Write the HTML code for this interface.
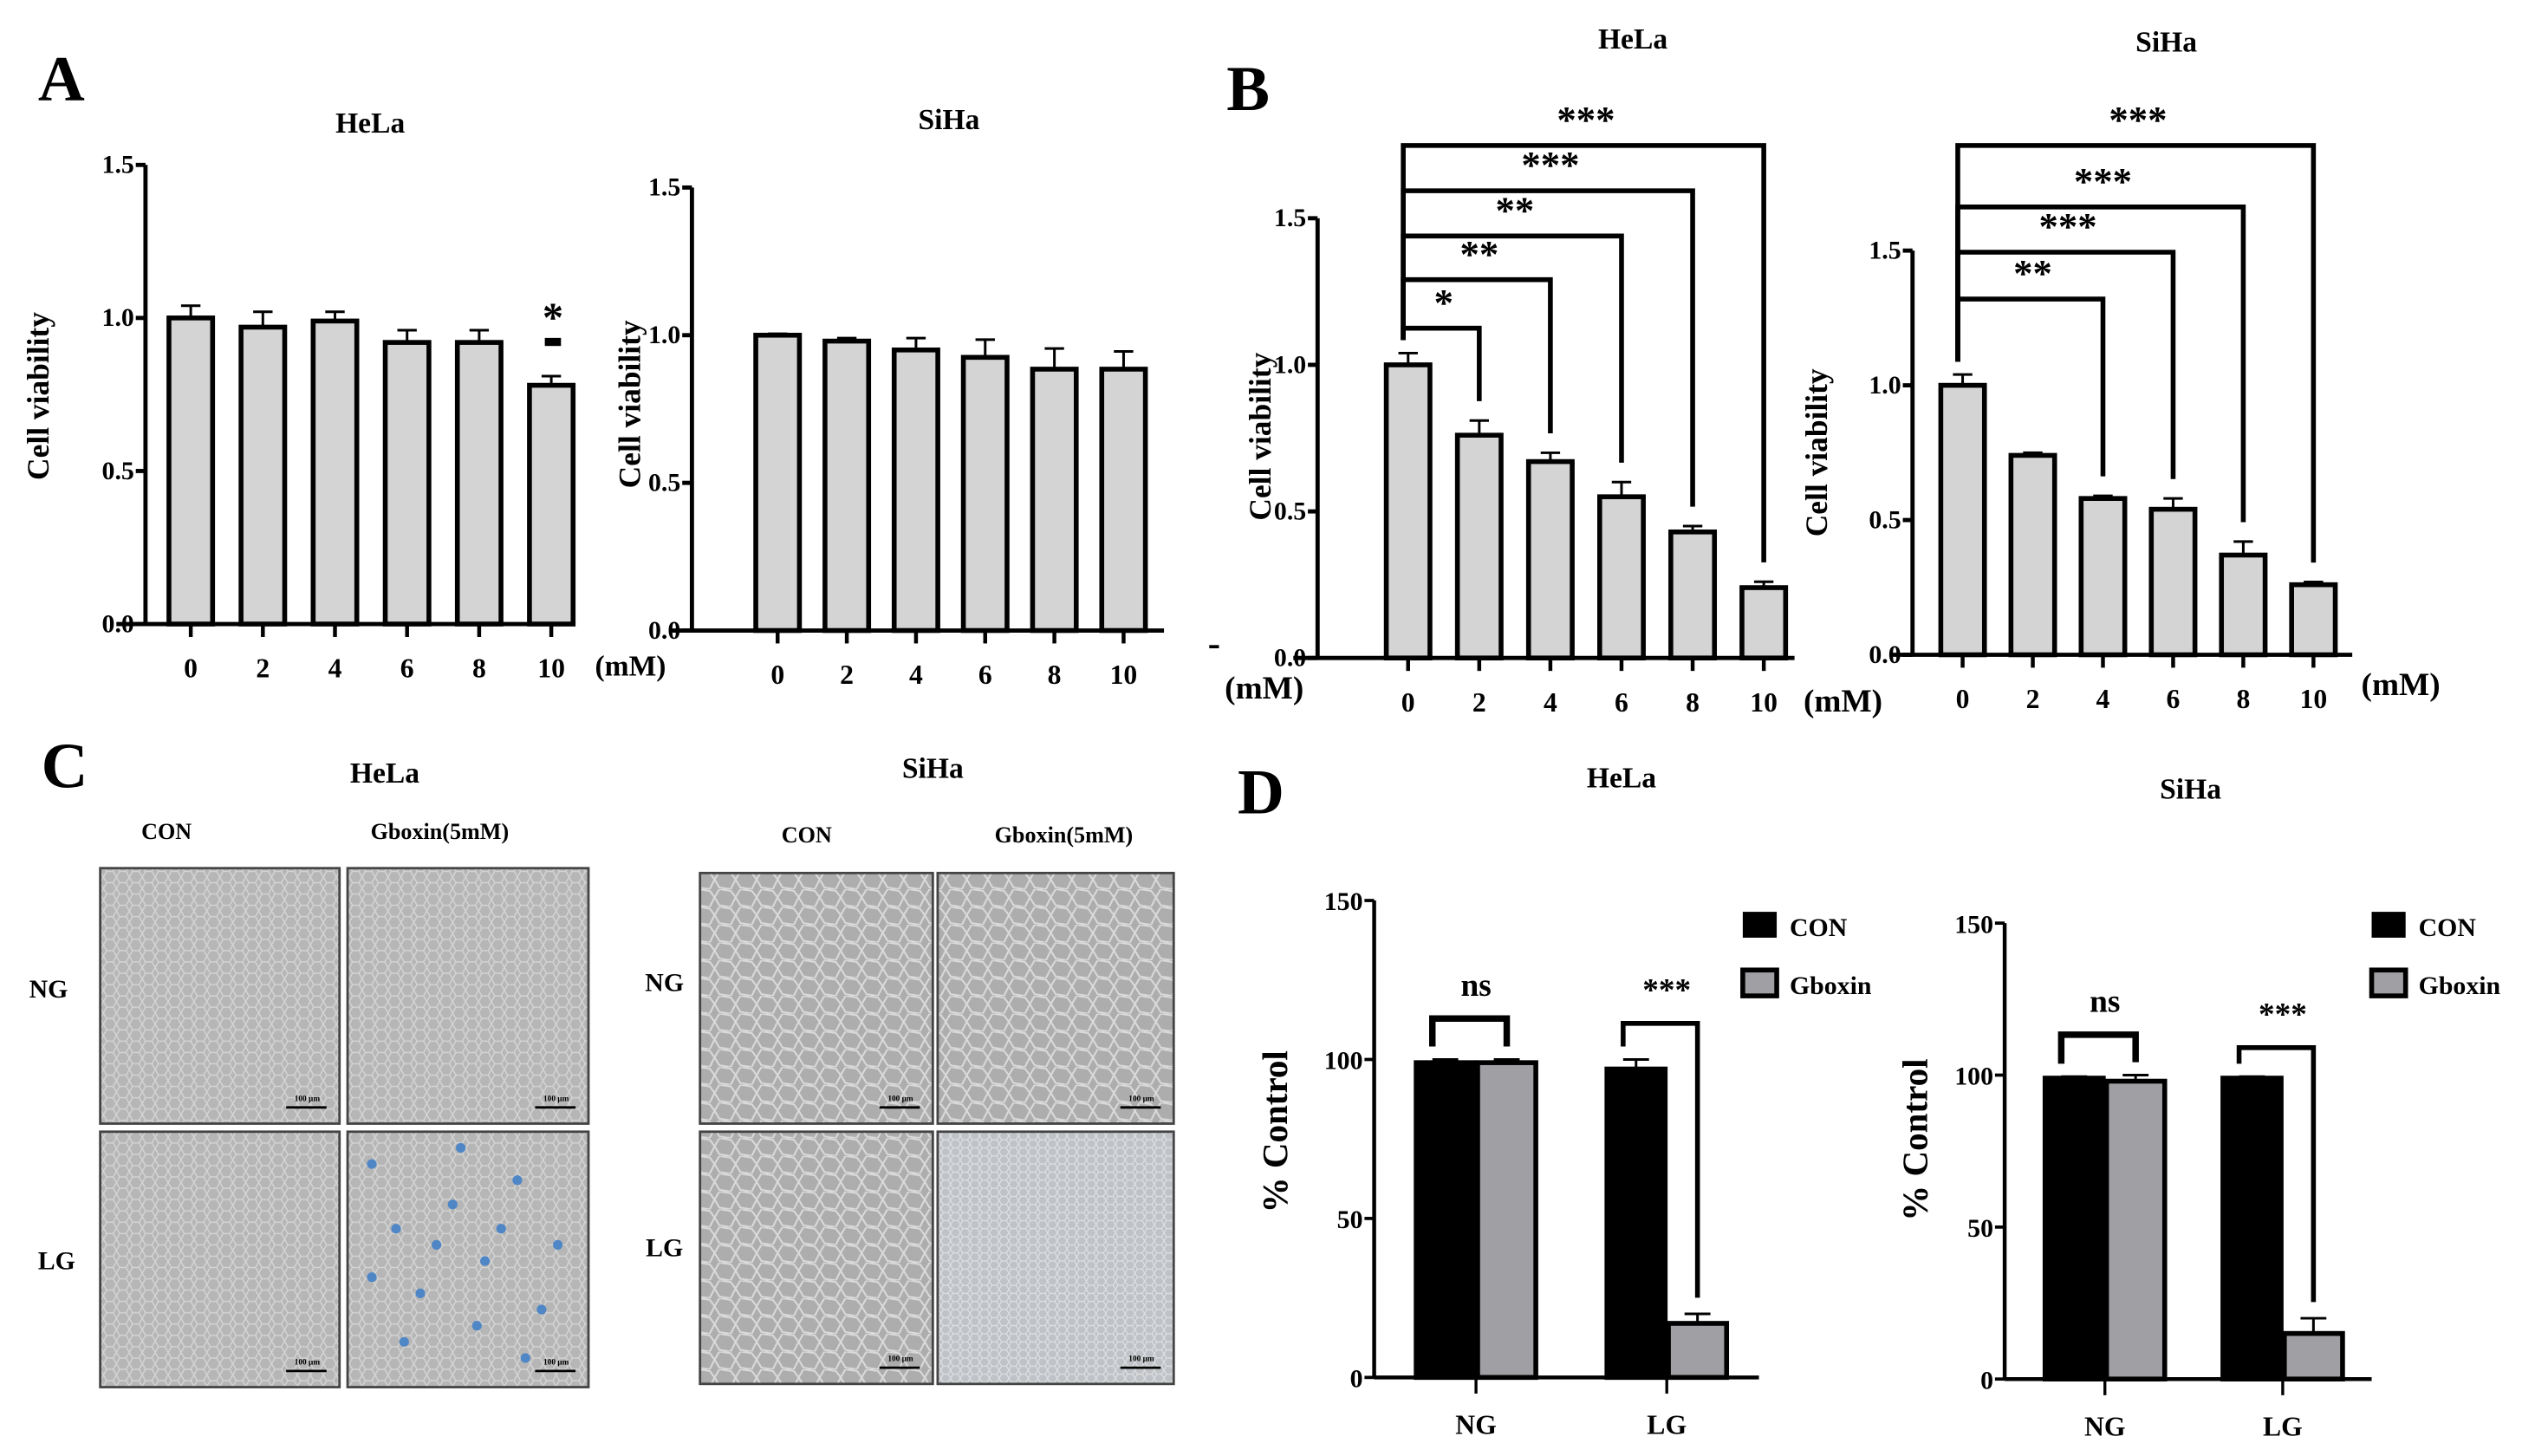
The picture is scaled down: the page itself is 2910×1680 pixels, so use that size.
<!DOCTYPE html>
<html><head><meta charset="utf-8"><style>
html,body{margin:0;padding:0;background:#fff;}
svg{display:block;}
text{font-family:"Liberation Serif",serif;font-weight:bold;fill:#000;}
</style></head><body>
<svg id="fig" xmlns="http://www.w3.org/2000/svg" width="2910" height="1680" viewBox="0 0 1560 900.6" preserveAspectRatio="none">
<defs>
<pattern id="cellsA" width="8" height="7" patternUnits="userSpaceOnUse"><rect width="8" height="7" fill="#b6b6b6"/><path d="M0 3.5 L2 0 L6 0 L8 3.5 L6 7 L2 7 Z" fill="none" stroke="#d4d4d4" stroke-width="0.8"/></pattern>
<pattern id="cellsB" width="13" height="11" patternUnits="userSpaceOnUse"><rect width="13" height="11" fill="#adadad"/><path d="M0 5 L3 0 L10 1 L13 5 L10 11 L3 10 Z" fill="none" stroke="#dadada" stroke-width="1.1"/></pattern>
<pattern id="cellsC" width="6" height="5" patternUnits="userSpaceOnUse"><rect width="6" height="5" fill="#bfc2c6"/><path d="M0 2.5 L1.5 0 L4.5 0 L6 2.5 L4.5 5 L1.5 5 Z" fill="none" stroke="#dfe1e5" stroke-width="0.6"/></pattern>
</defs>
<g id="root"></g>
</svg>
<script>
// ---------- DATA ----------
var concCats = ["0","2","4","6","8","10"];
var aHelaVals = [1.0,0.97,0.99,0.92,0.92,0.78];
var aHelaErr = [0.04,0.05,0.03,0.04,0.04,0.03];
var aSihaVals = [1.0,0.98,0.95,0.925,0.885,0.885];
var aSihaErr = [0.005,0.01,0.04,0.06,0.07,0.06];
var bHelaVals = [1.0,0.76,0.67,0.55,0.43,0.24];
var bHelaErr = [0.04,0.05,0.03,0.05,0.02,0.02];
var bSihaVals = [1.0,0.74,0.58,0.54,0.37,0.26];
var bSihaErr = [0.04,0.01,0.01,0.04,0.05,0.01];
var vTicks = [0,0.5,1.0,1.5];
var vTickLabels = ["0.0","0.5","1.0","1.5"];
var bHelaSig = ["*","**","**","***","***"];
var bSihaSig = ["","**","***","***","***"];
var dGroups = ["NG","LG"];
var dSeries = ["CON","Gboxin"];
var dHelaCon = [99,97];
var dHelaGbx = [99,17];
var dHelaConErr = [1,3];
var dHelaGbxErr = [1,3];
var dSihaCon = [99,99];
var dSihaGbx = [98,15];
var dSihaConErr = [0.5,0.5];
var dSihaGbxErr = [2,5];
var pTicks = [0,50,100,150];
var dSig = ["ns","***"];

var NS="http://www.w3.org/2000/svg";
var root=document.getElementById('root');
function el(tag,attrs,parent,txt){var e=document.createElementNS(NS,tag);for(var k in attrs)e.setAttribute(k,attrs[k]);if(txt!==undefined)e.textContent=txt;(parent||root).appendChild(e);return e;}
function grp(name,parent){var g=el('g',{},parent);return g;}
function txt(name,x,y,s,size,parent,anchor,rot){var a={x:x,y:y,'font-size':size,'text-anchor':anchor||'middle'};if(rot)a.transform='rotate(-90 '+x+' '+y+')';var t=el('text',a,parent,s);return t;}

function viab(name,cfg,vals,errs,sig){
  var g=grp(name);
  var y=function(v){return cfg.y0-(cfg.y0-cfg.yTop)*v/1.5;};
  var x=function(i){return cfg.x0+i*cfg.step;};
  vals.forEach(function(v,i){
    var b=el('rect',{x:x(i)-13.5,y:y(v),width:27,height:cfg.y0-y(v),fill:'#d4d4d4',stroke:'#000','stroke-width':3},g);
    
    
    var e=el('path',{d:'M'+x(i)+' '+y(v)+' V'+y(v+errs[i])+' M'+(x(i)-6)+' '+y(v+errs[i])+' H'+(x(i)+6),stroke:'#000','stroke-width':1.6,fill:'none'},g);
    
    
  });
  var ax=el('path',{d:'M'+cfg.ax+' '+cfg.yTop+' V'+cfg.y0+' M'+cfg.xl+' '+cfg.y0+' H'+cfg.xr,stroke:'#000','stroke-width':2.6,fill:'none'},g);
  
  vTicks.forEach(function(t,i){
    el('path',{d:'M'+(cfg.ax-6)+' '+y(t)+' H'+cfg.ax,stroke:'#000','stroke-width':2.6},g);
    txt('y-tick-label',cfg.ax-7,y(t)+5,vTickLabels[i],16,g,'end');
  });
  concCats.forEach(function(c,i){
    el('path',{d:'M'+x(i)+' '+cfg.y0+' V'+(cfg.y0+8),stroke:'#000','stroke-width':2.4},g);
    txt('x-tick-label',x(i),cfg.y0+33,c,17,g);
  });
  txt('y-axis-title',cfg.ylx,cfg.yly,'Cell viability',19,g,'middle',true).setAttribute('font-family','"Liberation Sans",sans-serif');
  if(sig){
    sig.forEach(function(s,k){
      if(!s)return;var i=k+1;var ly=cfg.brY[k];
      var p=el('path',{d:'M'+(x(0)-3)+' '+(y(vals[0]+errs[0])-8)+' V'+ly+' H'+x(i)+' V'+(y(vals[i]+errs[i])-12),stroke:'#000','stroke-width':3,fill:'none'},g);
      
      txt('significance-stars',(x(0)+x(i))/2,ly-8,s,24,g);
    });
  }
  return {g:g,x:x,y:y};
}
var A1=viab('chart-a-hela',{x0:118,step:44.6,y0:386,yTop:102,ax:90,xl:72,xr:355,ylx:30,yly:245},aHelaVals,aHelaErr);
txt('significance-star',342,205,'*',26,A1.g);
el('rect',{x:337,y:209,width:10,height:5,fill:'#000'},A1.g);
txt('x-unit',390,418,'(mM)',18,A1.g).setAttribute('font-weight','normal');
var A2=viab('chart-a-siha',{x0:481,step:42.8,y0:390,yTop:116,ax:428,xl:415,xr:720,ylx:396,yly:250},aSihaVals,aSihaErr);
var B1=viab('chart-b-hela',{x0:871,step:44,y0:407,yTop:135,ax:815,xl:800,xr:1110,ylx:786,yly:270,brY:[203,173,146,118,90]},bHelaVals,bHelaErr,bHelaSig);
txt('x-unit',1140,440,'(mM)',20,B1.g).setAttribute('font-weight','normal');
txt('x-unit',782,432,'(mM)',20,B1.g).setAttribute('font-weight','normal');
el('rect',{x:748,y:399,width:6,height:2,fill:'#000'},B1.g);
var B2=viab('chart-b-siha',{x0:1214,step:43.4,y0:405,yTop:155,ax:1183,xl:1170,xr:1455,ylx:1130,yly:280,brY:[0,185,156,128,90]},bSihaVals,bSihaErr,bSihaSig);
txt('x-unit',1485,430,'(mM)',20,B2.g).setAttribute('font-weight','normal');

txt('panel-label-a',38,62,'A',40,root);
txt('panel-label-b',772,68,'B',40,root);
txt('panel-label-c',40,487,'C',40,root);
txt('panel-label-d',780,503,'D',40,root);
txt('title-a-hela',229,82,'HeLa',18,root);
txt('title-a-siha',587,80,'SiHa',18,root);
txt('title-b-hela',1010,30,'HeLa',18,root);
txt('title-b-siha',1340,32,'SiHa',18,root);
txt('title-c-hela',238,484,'HeLa',18,root);
txt('title-c-siha',577,481,'SiHa',18,root);
txt('title-d-hela',1003,487,'HeLa',18,root);
txt('title-d-siha',1355,494,'SiHa',18,root);

var C=grp('panel-c-micrographs');
function img(name,x,y,w,h,pat){var r=el('rect',{x:x,y:y,width:w,height:h,fill:'url(#'+pat+')',stroke:'#444','stroke-width':1.5},C);
  el('path',{d:'M'+(x+w-33)+' '+(y+h-10)+' H'+(x+w-8),stroke:'#000','stroke-width':1.5},C);
  txt('scale-bar-label',x+w-20,y+h-14,'100 μm',5,C).setAttribute('font-weight','normal');}
img('hela-ng-con',62,537,148,158,'cellsA');img('hela-ng-gboxin',215,537,149,158,'cellsA');
img('hela-lg-con',62,700,148,158,'cellsA');img('hela-lg-gboxin',215,700,149,158,'cellsA');
img('siha-ng-con',433,540,144,155,'cellsB');img('siha-ng-gboxin',580,540,146,155,'cellsB');
img('siha-lg-con',433,700,144,156,'cellsB');img('siha-lg-gboxin',580,700,146,156,'cellsC');
var spots=[[230,720],[245,760],[260,800],[280,745],[300,780],[320,730],[335,810],[250,830],[295,820],[310,760],[270,770],[345,770],[230,790],[285,710],[325,840]];
spots.forEach(function(p){var c=el('circle',{cx:p[0],cy:p[1],r:3,fill:'#4f86c6'},C);});
txt('col-label',103,519,'CON',14,C);txt('col-label',272,519,'Gboxin(5mM)',14,C);
txt('col-label',499,521,'CON',14,C);txt('col-label',658,521,'Gboxin(5mM)',14,C);
txt('row-label',30,617,'NG',16,C);txt('row-label',35,785,'LG',16,C);
txt('row-label',411,613,'NG',16,C);txt('row-label',411,777,'LG',16,C);

function pctChart(name,cfg,con,gbx,conE,gbxE){
  var g=grp(name);
  var y=function(v){return cfg.y0-(cfg.y0-cfg.yTop)*v/150;};
  var gx=function(i){return cfg.g0+i*cfg.gstep;};
  var w=cfg.bw;
  function bar(cx,v,e,fill,nm){
    var r=el('rect',{x:cx-w/2,y:y(v),width:w,height:cfg.y0-y(v),fill:fill,stroke:'#000','stroke-width':3},g);
    
    el('path',{d:'M'+cx+' '+y(v)+' V'+y(v+e)+' M'+(cx-8)+' '+y(v+e)+' H'+(cx+8),stroke:'#000','stroke-width':1.6,fill:'none'},g);
  }
  dGroups.forEach(function(gn,i){
    bar(gx(i)-w/2-1,con[i],conE[i],'#000','bar-con-'+gn);
    bar(gx(i)+w/2+1,gbx[i],gbxE[i],'#a0a0a4','bar-gboxin-'+gn);
    el('path',{d:'M'+gx(i)+' '+cfg.y0+' V'+(cfg.y0+10),stroke:'#000','stroke-width':1.8},g);
    txt('x-tick-label',gx(i),cfg.y0+35,gn,17,g).setAttribute('font-weight','normal');
    var c1=gx(i)-w/2-1,c2=gx(i)+w/2+1;var ly=cfg.brY[i];
    var p=el('path',{d:'M'+(c1-8)+' '+(y(con[i]+conE[i])-8)+' V'+ly+' H'+c2+' V'+(i==0?y(gbx[i]+gbxE[i])-8:y(gbx[i]+gbxE[i])-10),stroke:'#000','stroke-width':i==0?4:3,fill:'none'},g);
    
    txt('significance-label',(c1+c2)/2,ly-14,dSig[i],20,g);
  });
  el('path',{d:'M'+cfg.ax+' '+cfg.yTop+' V'+cfg.y0+' M'+cfg.ax+' '+cfg.y0+' H'+cfg.xr,stroke:'#000','stroke-width':2.4,fill:'none'},g);
  pTicks.forEach(function(t){el('path',{d:'M'+(cfg.ax-6)+' '+y(t)+' H'+cfg.ax,stroke:'#000','stroke-width':2},g);
    txt('y-tick-label',cfg.ax-7,y(t)+6,String(t),16,g,'end').setAttribute('font-weight','normal');});
  txt('y-axis-title',cfg.ylx,cfg.yly,'% Control',22,g,'middle',true).setAttribute('font-family','"Liberation Sans",sans-serif');
  var l1=el('rect',{x:cfg.lx,y:564,width:21,height:16,fill:'#000'},g);
  var l2=el('rect',{x:cfg.lx,y:600,width:21,height:16,fill:'#a0a0a4',stroke:'#000','stroke-width':3},g);
  txt('legend-entry',cfg.lx+29,579,dSeries[0],16,g,'start').setAttribute('font-weight','normal');
  txt('legend-entry',cfg.lx+29,615,dSeries[1],16,g,'start').setAttribute('font-weight','normal');
}
pctChart('chart-d-hela',{ax:850,y0:852,yTop:557,xr:1088,g0:913,gstep:118,bw:36,brY:[630,633],lx:1078,ylx:796,yly:700},dHelaCon,dHelaGbx,dHelaConErr,dHelaGbxErr);
pctChart('chart-d-siha',{ax:1240,y0:853,yTop:571,xr:1467,g0:1302,gstep:110,bw:36,brY:[640,648],lx:1467,ylx:1192,yly:705},dSihaCon,dSihaGbx,dSihaConErr,dSihaGbxErr);
</script>
</body></html>
